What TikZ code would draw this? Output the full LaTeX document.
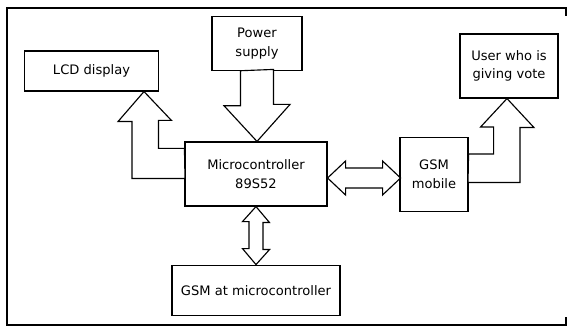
\documentclass[tikz,border=0pt]{standalone}
\usepackage{fontspec}
\setmainfont{DejaVu Sans}
\usepackage{tikz}
\usetikzlibrary{calc}
\def\outerframe{(566,16) -- (566,8) -- (7,8) -- (7,325) -- (566,325) -- (566,317)}

\begin{document}
\begin{tikzpicture}[x=0.75pt,y=-0.75pt,
    blk/.style={draw,line width=0.85pt,align=center,inner sep=0pt,
      font=\fontsize{9.8}{14}\selectfont},
    blockarr/.style={draw,line width=0.85pt,line join=miter,fill=white}]
   \useasboundingbox (0,0) rectangle (568,327);
   \draw[line width=2pt] \outerframe;
   % blocks
   \node[blk,minimum width=101pt,minimum height=30pt] (lcd) at (91.5,71) {LCD display};
   \node[blk,minimum width=67.5pt,minimum height=40pt] (power) at (257,43.5) {Power\\supply};
   \node[blk,minimum width=106.5pt,minimum height=48pt] (mcu) at (256,174) {Microcontroller\\89S52};
   \node[blk,minimum width=73.5pt,minimum height=48pt] (user) at (509,66) {User who is\\giving vote};
   \node[blk,minimum width=51pt,minimum height=56pt] (gsmm) at (434,174.5) {GSM\\mobile};
   \node[blk,minimum width=126pt,minimum height=38pt] (gsmc) at (256,290.5) {GSM at microcontroller};
   % block arrows
   \draw[blockarr] (power.south) ++(-16.5,0) -- ++(0,35) -- ++(-16.5,0) -- (power.south |- mcu.north)
      -- ++(33,-37) -- ++(-16.5,0) -- ++(0,-35) -- cycle;
   \draw[blockarr] (mcu.north west) ++(0,7) -- ++(-26,0) -- ++(0,-28) -- ++(13,0)
      -- ($(lcd.south)+(52.5,0)$) -- ++(-26,30) -- ++(14,0) -- ++(0,57) -- ++(53,0) -- cycle;
   \draw[blockarr] (gsmm.east) ++(0,-20.5) -- ++(25,0) -- ++(0,-27) -- ++(-13,0)
      -- ($(user.south)+(-2,0)$) -- ++(27,29) -- ++(-14,0) -- ++(0,55) -- ++(-52,0) -- cycle;
   \draw[blockarr] ($(mcu.east)+(0,4)$) -- ++(18,-17) -- ++(0,7) -- ++(37,0) -- ++(0,-7)
      -- ++(18,17) -- ++(-18,17) -- ++(0,-7) -- ++(-37,0) -- ++(0,7) -- cycle;
   \draw[blockarr] (mcu.south) -- ++(13.5,16) -- ++(-6.5,0) -- ++(0,27) -- ++(6.5,0)
      -- (gsmc.north) -- ++(-13.5,-16) -- ++(6.5,0) -- ++(0,-27) -- ++(-6.5,0) -- cycle;
\end{tikzpicture}
\end{document}
